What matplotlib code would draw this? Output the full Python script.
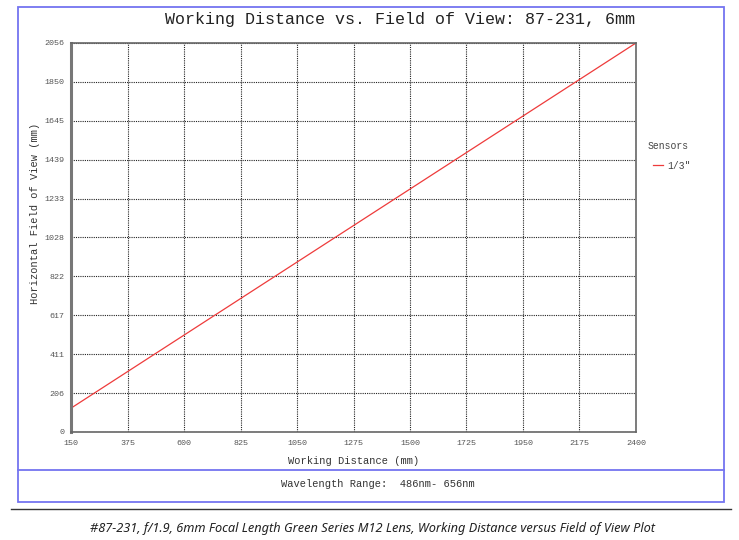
import matplotlib
matplotlib.use("Agg")
import matplotlib.pyplot as plt
from matplotlib.lines import Line2D
from matplotlib.patches import Rectangle

# values
wd_ticks = [150, 375, 600, 825, 1050, 1275, 1500, 1725, 1950, 2175, 2400]
fov_ticks = [0, 206, 411, 617, 822, 1028, 1233, 1439, 1645, 1850, 2056]
wd = [150, 2400]
fov_third = [126, 2056]

MONO = "Liberation Mono"
BLUE = "#7474f0"

fig = plt.figure(figsize=(7.39, 5.40), dpi=100)
ax = fig.add_axes([0.0961, 0.2, 0.7645, 0.7204])

ax.plot(wd, fov_third, color="#ee3b3b", lw=0.9, label='1/3"')
ax.set_xlim(150, 2400)
ax.set_ylim(0, 2056)
ax.set_xticks(wd_ticks)
ax.set_yticks(fov_ticks)
ax.tick_params(length=0, labelsize=6, labelcolor="#555555")
ax.tick_params(axis="x", pad=6)
ax.tick_params(axis="y", pad=5)
for lab in ax.get_xticklabels() + ax.get_yticklabels():
    lab.set_family(MONO)
ax.grid(True, color="#222222", linestyle=(0, (1, 1)), linewidth=0.8)
for side in ["top", "right", "bottom"]:
    ax.spines[side].set_color("#666666")
    ax.spines[side].set_linewidth(1.2)
ax.spines["left"].set_color("#777777")
ax.spines["left"].set_linewidth(2.2)

ax.set_xlabel("Working Distance (mm)", family=MONO, fontsize=7.5, color="#333333", va="center")
ax.set_ylabel("Horizontal Field of View (mm)", family=MONO, fontsize=7.5, color="#333333", va="center")
ax.xaxis.set_label_coords(0.5, -0.074)
ax.yaxis.set_label_coords(-0.064, 0.563)

fig.text(0.541, 0.963, "Working Distance vs. Field of View: 87-231, 6mm",
         family=MONO, fontsize=12, ha="center", va="center", color="#222222")

# legend: title drawn separately to get the wider gap of the original
fig.text(0.904, 0.730, "Sensors", family=MONO, fontsize=7, ha="center", va="center", color="#444444")
leg = fig.legend(handles=[Line2D([], [], color="#ee3b3b", lw=0.9, label='1/3"')],
                 loc="center left", bbox_to_anchor=(0.884, 0.693),
                 frameon=False, prop={"family": MONO, "size": 7},
                 handlelength=1.0, handletextpad=0.4, borderpad=0, borderaxespad=0)
for t in leg.get_texts():
    t.set_color("#444444")

# blue frame and divider
fig.patches.append(Rectangle((0.0244, 0.0704), 0.9553, 0.9167, transform=fig.transFigure,
                             fill=False, edgecolor=BLUE, linewidth=1.3))
fig.add_artist(Line2D([0.0244, 0.9797], [0.1296, 0.1296], transform=fig.transFigure,
                      color=BLUE, linewidth=1.3))
fig.text(0.512, 0.104, "Wavelength Range:  486nm- 656nm", family=MONO, fontsize=7.5,
         ha="center", va="center", color="#333333")

# caption underneath
fig.add_artist(Line2D([0.0149, 0.989], [0.0574, 0.0574], transform=fig.transFigure,
                      color="#333333", linewidth=1.0))
fig.text(0.504, 0.0222,
         "#87-231, f/1.9, 6mm Focal Length Green Series M12 Lens, Working Distance versus Field of View Plot",
         family="Noto Sans", style="italic", weight="medium", fontsize=9.2,
         ha="center", va="center", color="#222222")

fig.savefig("out.png", dpi=100)
